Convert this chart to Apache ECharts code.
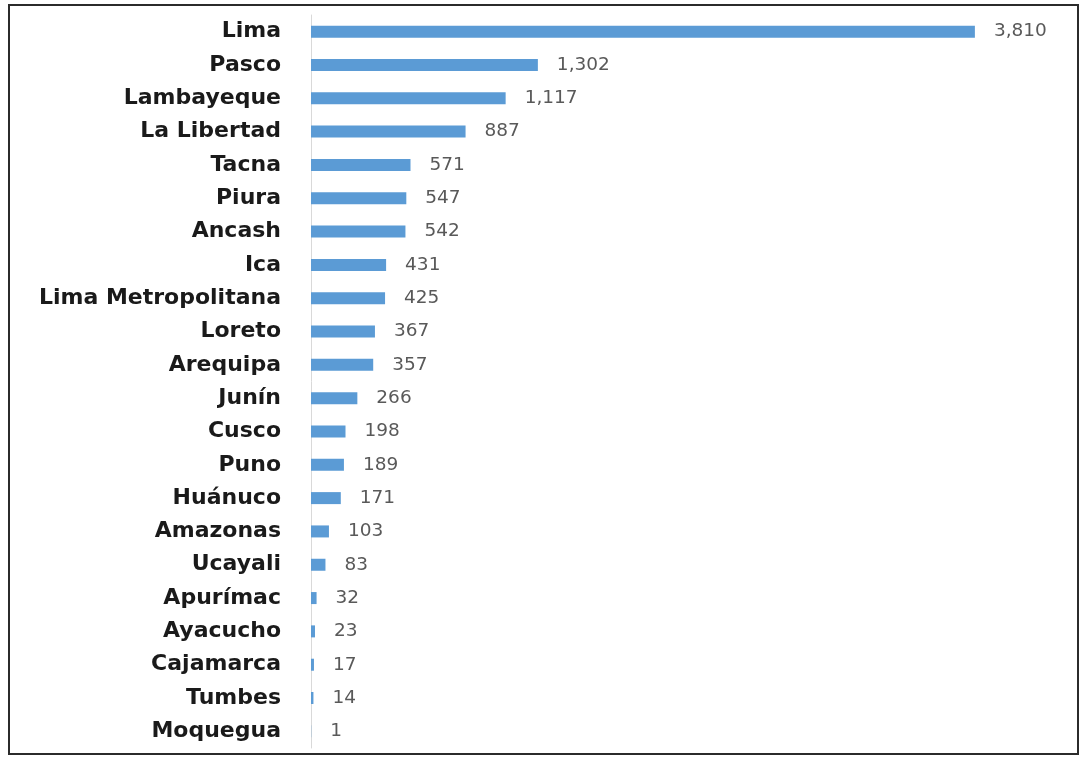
<html>
<head>
<meta charset="utf-8">
<script src="https://cdn.jsdelivr.net/npm/echarts@6/dist/echarts.min.js"></script>
<style>
  body { margin: 0; background: #fff; }
  #chart { width: 1084px; height: 758px; }
</style>
</head>
<body>
<div id="chart"></div>
<script type="text/javascript">
var regiones = ['Lima', 'Pasco', 'Lambayeque', 'La Libertad', 'Tacna', 'Piura', 'Ancash', 'Ica',
    'Lima Metropolitana', 'Loreto', 'Arequipa', 'Junín', 'Cusco', 'Puno', 'Huánuco', 'Amazonas',
    'Ucayali', 'Apurímac', 'Ayacucho', 'Cajamarca', 'Tumbes', 'Moquegua'];
var casos = [3810, 1302, 1117, 887, 571, 547, 542, 431, 425, 367, 357, 266, 198, 189, 171, 103,
    83, 32, 23, 17, 14, 1];

var myChart = echarts.init(document.getElementById('chart'));

var option = {
    animation: false,
    graphic: [{
        type: 'rect',
        shape: { x: 9, y: 5, width: 1069, height: 749 },
        style: { fill: 'none', stroke: '#2b2b2b', lineWidth: 2 }
    }],
    grid: { left: 311, right: 76, top: 15, bottom: 10 },
    xAxis: {
        type: 'value',
        min: 0,
        max: 4000,
        show: false
    },
    yAxis: {
        type: 'category',
        inverse: true,
        data: regiones,
        axisLine: { lineStyle: { color: '#d9d9d9', width: 1 } },
        axisTick: { show: false },
        axisLabel: {
            color: '#1a1a1a',
            fontWeight: 'bold',
            fontSize: 22,
            fontFamily: 'DejaVu Sans',
            margin: 30
        }
    },
    series: [{
        type: 'bar',
        data: casos,
        barWidth: 12,
        itemStyle: { color: '#5b9bd5' },
        label: {
            show: true,
            position: 'right',
            distance: 19,
            color: '#595959',
            fontSize: 18.5,
            fontFamily: 'DejaVu Sans',
            formatter: function (p) { return p.value.toLocaleString('en-US'); }
        }
    }]
};

myChart.setOption(option);
</script>
</body>
</html>
